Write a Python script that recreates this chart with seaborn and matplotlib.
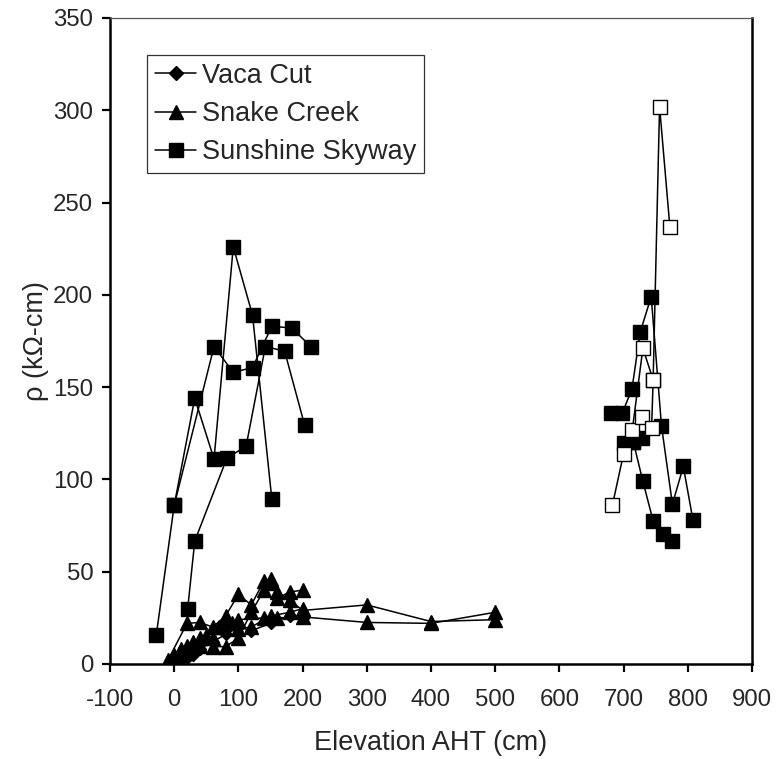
import matplotlib
matplotlib.use("Agg")
import matplotlib.pyplot as plt
import seaborn as sns
from matplotlib.lines import Line2D

sns.set_theme(style="white")
plt.rcParams['font.family'] = ['Liberation Sans', 'DejaVu Sans']
plt.rcParams['axes.unicode_minus'] = False

# ---------------- data ----------------
# Sunshine Skyway, low elevations (filled squares)
sky_a_x = [-28, 0, 32, 62, 92, 122, 152]
sky_a_y = [15.5, 86, 144, 111, 226, 189, 89.5]
sky_b_x = [0, 62, 92, 122, 152, 183, 213]
sky_b_y = [86, 172, 158, 160.6, 183, 182, 172]
sky_c_x = [21, 32, 82, 112, 142, 172, 203]
sky_c_y = [30, 66.6, 111.5, 118, 172, 169.5, 129.6]
# Sunshine Skyway, high elevations (filled squares)
sky_d_x = [681, 698, 713, 726, 743, 759, 776, 793, 808]
sky_d_y = [136, 136, 149, 180, 199, 129, 86.6, 107, 78]
sky_e_x = [700, 715, 728]
sky_e_y = [119.5, 120.5, 122.5]
sky_f_x = [715, 730, 746, 762, 775]
sky_f_y = [120.5, 99, 77.5, 70.3, 66.6]
# Sunshine Skyway, high elevations (open squares)
sky_o1_x = [682.5, 700, 713.6, 730, 746, 756, 772]
sky_o1_y = [86, 114, 127, 171, 154, 302, 237]
sky_o2_x = [728, 743.6, 746]
sky_o2_y = [134, 128, 154]

# Snake Creek (triangles)
snake_a_x = [-10, 20, 40, 60, 80, 100, 120, 140, 150, 160, 180, 200]
snake_a_y = [2, 22, 22.5, 20, 26, 37.7, 32, 45, 46, 35.5, 39, 40]
snake_b_x = [0, 20, 40, 60, 80, 100, 120, 140, 150, 160, 180, 200, 300, 400, 500]
snake_b_y = [5, 10, 14, 9.4, 9.4, 14, 28, 40, 44, 39, 34.7, 29, 32, 23, 24]
snake_c_x = [10, 30, 50, 70, 90, 100, 140, 160, 200, 300, 400, 500]
snake_c_y = [8, 12, 15, 20, 22, 24, 25, 25, 25.5, 22.5, 22, 28]
snake_d_x = [0, 20, 40, 60, 80, 100, 120, 150, 180, 200]
snake_d_y = [3, 6, 10, 14, 22, 19, 20, 26, 28, 30]

# Vaca Cut (diamonds)
vaca_x = [0, 10, 20, 30, 40, 60, 80, 100, 120, 150, 180, 200]
vaca_y = [1, 2, 3, 5, 8, 12, 16, 20, 18, 22, 26, 25]

legend_labels = ["Vaca Cut", "Snake Creek", "Sunshine Skyway"]
x_ticks = list(range(-100, 901, 100))
y_ticks = list(range(0, 351, 50))

# ---------------- plot ----------------
fig = plt.figure(figsize=(7.78, 7.59), dpi=100)
ax = fig.add_axes([0.1414, 0.1252, 0.8252, 0.8511])

def draw(xs, ys, marker, ms, face="black"):
    sns.lineplot(x=xs, y=ys, sort=False, estimator=None, ax=ax,
                 color="black", linewidth=1.1, marker=marker, markersize=ms,
                 markerfacecolor=face, markeredgecolor="black",
                 markeredgewidth=1.0, legend=False)

for xs, ys in [(snake_a_x, snake_a_y), (snake_b_x, snake_b_y),
               (snake_c_x, snake_c_y), (snake_d_x, snake_d_y)]:
    draw(xs, ys, "^", 9.5)
draw(vaca_x, vaca_y, "D", 6)
for xs, ys in [(sky_a_x, sky_a_y), (sky_b_x, sky_b_y), (sky_c_x, sky_c_y),
               (sky_d_x, sky_d_y), (sky_e_x, sky_e_y), (sky_f_x, sky_f_y)]:
    draw(xs, ys, "s", 9.5)
for xs, ys in [(sky_o1_x, sky_o1_y), (sky_o2_x, sky_o2_y)]:
    draw(xs, ys, "s", 9.5, face="white")

ax.set_xlim(-100, 900)
ax.set_ylim(0, 350)
ax.set_xticks(x_ticks)
ax.set_yticks(y_ticks)
ax.tick_params(axis="both", which="major", direction="out", length=6,
               width=1.6, color="black", labelsize=17.3,
               bottom=True, left=True)
ax.tick_params(axis="x", pad=12)
ax.tick_params(axis="y", pad=6)
ax.set_xlabel("Elevation AHT (cm)", fontsize=19.5, labelpad=14)
ax.set_ylabel("ρ (kΩ-cm)", fontsize=19.5, labelpad=3)

for side in ["left", "bottom", "right"]:
    ax.spines[side].set_color("black")
    ax.spines[side].set_linewidth(1.8)
ax.spines["top"].set_color("#555555")
ax.spines["top"].set_linewidth(0.9)
ax.grid(False)

handles = [
    Line2D([0], [0], color="black", lw=1.1, marker="D", markersize=7, markerfacecolor="black"),
    Line2D([0], [0], color="black", lw=1.1, marker="^", markersize=9.5, markerfacecolor="black"),
    Line2D([0], [0], color="black", lw=1.1, marker="s", markersize=9.5, markerfacecolor="black"),
]
leg = ax.legend(handles, legend_labels, loc="upper left",
                bbox_to_anchor=(0.058, 0.943), borderaxespad=0,
                fontsize=19.5, frameon=True, fancybox=False,
                edgecolor="black", handlelength=1.5, handletextpad=0.22,
                labelspacing=0.45, borderpad=0.3)
leg.get_frame().set_linewidth(0.9)

fig.savefig("out.png", dpi=100, facecolor="white")
